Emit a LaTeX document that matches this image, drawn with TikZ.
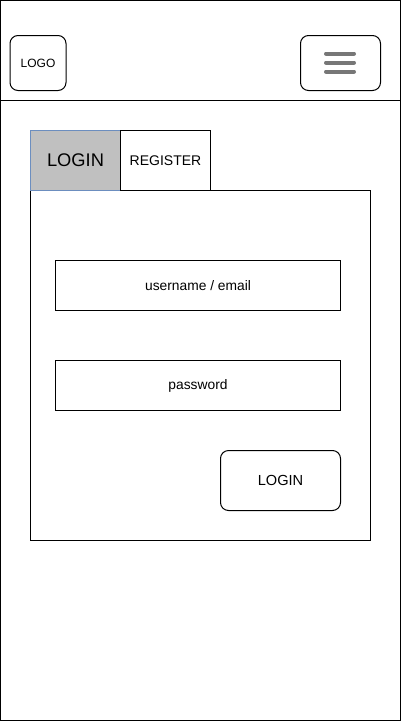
\documentclass[tikz,border=0pt]{standalone}
\usepackage{fontspec}
\setmainfont{Liberation Sans}
\begin{document}
\begin{tikzpicture}[x=1pt,y=-1pt,
  box/.style={draw=black,line width=1pt,inner sep=0pt},
  rbox/.style={box,rounded corners=8pt},
  bar/.style={line width=4pt,line cap=round},
  lbl/.style={font=\fontsize{13.8}{16}\selectfont}]
\definecolor{tabgray}{HTML}{C0C0C0}
\definecolor{tabblue}{HTML}{6C8EBF}
\definecolor{bargray}{HTML}{777777}
\useasboundingbox (0,0) rectangle (402,721);
\draw[line width=1pt] (0.5,0.5) rectangle (400.5,720.5);
\draw[line width=1pt] (0.5,100.5) -- (400.5,100.5);
% header
\node[rbox,minimum width=56pt,minimum height=55pt,font=\fontsize{12}{14}\selectfont] (logo) at (38,63) {LOGO};
\node[rbox,minimum width=80pt,minimum height=55pt] (menu) at (340.5,63) {};
\coordinate (b1l) at (326,53.5); \coordinate (b1r) at (354,53.5);
\coordinate (b2l) at (326,62.5); \coordinate (b2r) at (354,62.5);
\coordinate (b3l) at (326,71.5); \coordinate (b3r) at (354,71.5);
\draw[bar,draw=bargray] (b1l) -- (b1r);
\draw[bar,draw=bargray] (b2l) -- (b2r);
\draw[bar,draw=bargray] (b3l) -- (b3r);
% content box
\node[box,minimum width=340pt,minimum height=350pt] (panel) at (200.5,365.5) {};
% tabs
\node[box,draw=tabblue,fill=tabgray,minimum width=90pt,minimum height=60pt,font=\fontsize{18.3}{20}\selectfont] (tlogin) at (75.5,160.5) {LOGIN};
\node[box,minimum width=90pt,minimum height=60pt,font=\fontsize{14}{16}\selectfont] (treg) at (165.5,160.5) {REGISTER};
% fields
\node[box,minimum width=285pt,minimum height=50pt,lbl] (user) at (198,285.5) {username / email};
\node[box,minimum width=285pt,minimum height=50pt,lbl] (pass) at (198,385.5) {password};
\node[rbox,minimum width=120pt,minimum height=60pt,font=\fontsize{14.6}{16}\selectfont] (btn) at (280.5,480.5) {LOGIN};
\end{tikzpicture}
\end{document}
